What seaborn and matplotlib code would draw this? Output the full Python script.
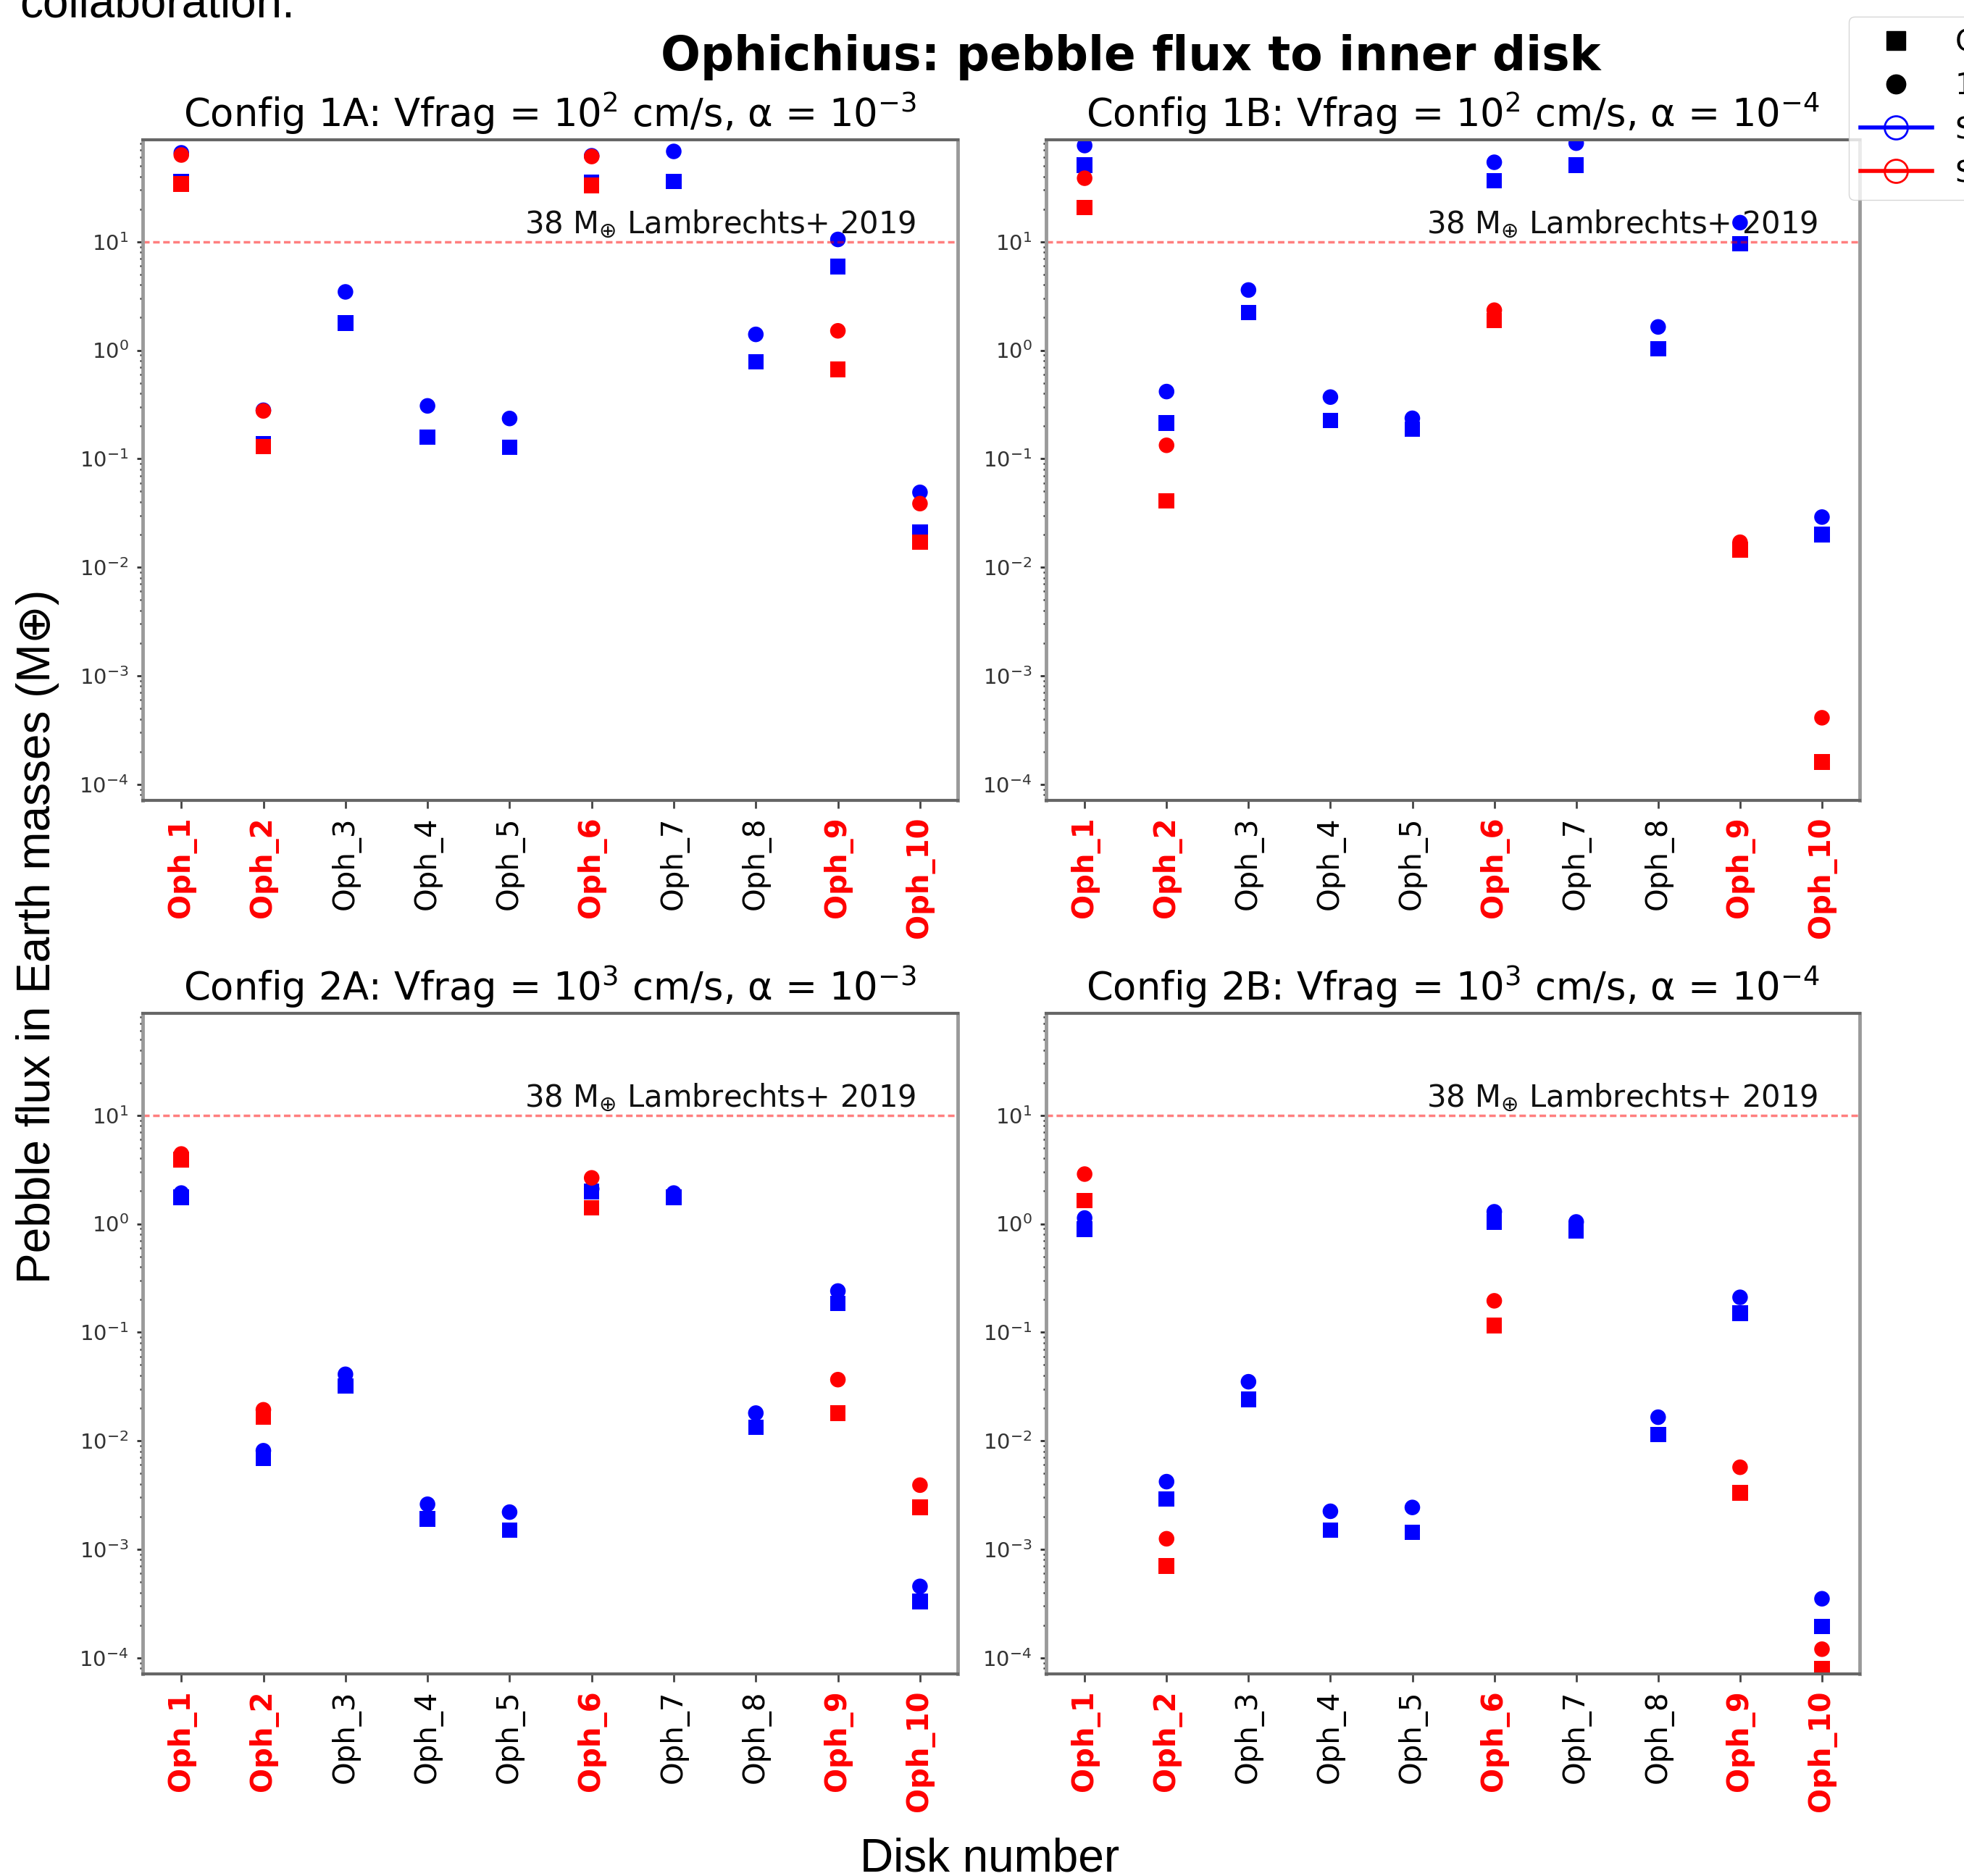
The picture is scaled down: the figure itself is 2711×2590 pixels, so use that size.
import numpy as np
import pandas as pd
import matplotlib
matplotlib.use("Agg")
import matplotlib.pyplot as plt
import seaborn as sns
from matplotlib.lines import Line2D

# ---------------- data ----------------
disks = ["Oph_1", "Oph_2", "Oph_3", "Oph_4", "Oph_5",
         "Oph_6", "Oph_7", "Oph_8", "Oph_9", "Oph_10"]
red_disks = ["Oph_1", "Oph_2", "Oph_6", "Oph_9", "Oph_10"]

titles = [
    "Config 1A: Vfrag = 10$^2$ cm/s, \u03b1 = 10$^{-3}$",
    "Config 1B: Vfrag = 10$^2$ cm/s, \u03b1 = 10$^{-4}$",
    "Config 2A: Vfrag = 10$^3$ cm/s, \u03b1 = 10$^{-3}$",
    "Config 2B: Vfrag = 10$^3$ cm/s, \u03b1 = 10$^{-4}$",
]

# blue series (all disks)
blue_circle_1A = [66, 0.28, 3.45, 0.307, 0.235, 62, 68, 1.40, 10.5, 0.049]
blue_square_1A = [36, 0.138, 1.78, 0.158, 0.128, 35, 36, 0.78, 5.9, 0.021]
blue_circle_1B = [77, 0.416, 3.59, 0.37, 0.236, 54, 81, 1.64, 15.0, 0.029]
blue_square_1B = [51, 0.213, 2.23, 0.226, 0.187, 36.5, 51, 1.03, 9.6, 0.020]
blue_circle_2A = [1.92, 0.0081, 0.041, 0.0026, 0.0022, 2.1, 1.92, 0.018, 0.24, 4.55e-4]
blue_square_2A = [1.75, 0.0069, 0.032, 0.0019, 0.0015, 1.98, 1.75, 0.0133, 0.185, 3.3e-4]
blue_circle_2B = [1.13, 0.0042, 0.035, 0.00224, 0.00243, 1.29, 1.04, 0.0165, 0.21, 3.5e-4]
blue_square_2B = [0.89, 0.0029, 0.024, 0.0015, 0.00143, 1.04, 0.86, 0.0114, 0.15, 1.94e-4]

# red series (red-labelled disks only)
red_circle_1A = [63, 0.276, 61, 1.51, 0.0386]
red_square_1A = [34, 0.13, 33, 0.664, 0.017]
red_circle_1B = [38.5, 0.133, 2.34, 0.017, 4.1e-4]
red_square_1B = [20.7, 0.041, 1.88, 0.0145, 1.6e-4]
red_circle_2A = [4.4, 0.0193, 2.65, 0.0366, 0.0039]
red_square_2A = [3.9, 0.0166, 1.4, 0.018, 0.00243]
red_circle_2B = [2.87, 0.00125, 0.195, 0.0057, 1.2e-4]
red_square_2B = [1.64, 0.0007, 0.115, 0.0033, 7.9e-5]

panels = [
    (blue_square_1A, blue_circle_1A, red_square_1A, red_circle_1A),
    (blue_square_1B, blue_circle_1B, red_square_1B, red_circle_1B),
    (blue_square_2A, blue_circle_2A, red_square_2A, red_circle_2A),
    (blue_square_2B, blue_circle_2B, red_square_2B, red_circle_2B),
]

ref_value = 10.0
ref_label = r"38 M$_{\oplus}$ Lambrechts+ 2019"
legend_labels = ["Current age", "1 Myr", "Smooth disk", "Substructured disk"]

# ---------------- figure ----------------
W, H = 2711, 2590
fig = plt.figure(figsize=(W / 100, H / 100), dpi=100)
fig.patch.set_facecolor("white")

def frac_rect(x0, y0, x1, y1):
    return [x0 / W, 1 - y1 / H, (x1 - x0) / W, (y1 - y0) / H]

rects = [
    frac_rect(197, 193, 1322, 1105),
    frac_rect(1444, 193, 2567, 1105),
    frac_rect(197, 1399, 1322, 2311),
    frac_rect(1444, 1399, 2567, 2311),
]

for (bs, bc, rs, rc), rect, title in zip(panels, rects, titles):
    ax = fig.add_axes(rect)
    rows = []
    for d, v in zip(disks, bs):
        rows.append((d, v, "blue", "square"))
    for d, v in zip(disks, bc):
        rows.append((d, v, "blue", "circle"))
    for d, v in zip(red_disks, rs):
        rows.append((d, v, "red", "square"))
    for d, v in zip(red_disks, rc):
        rows.append((d, v, "red", "circle"))
    df = pd.DataFrame(rows, columns=["disk", "flux", "group", "shape"])
    ax.set_yscale("log")
    sns.scatterplot(data=df, x="disk", y="flux", hue="group", style="shape",
                    palette={"blue": "blue", "red": "red"},
                    markers={"square": "s", "circle": "o"},
                    s=240, linewidth=0, legend=False, ax=ax)
    ax.set_xlim(-0.47, 9.46)
    ax.set_ylim(7.1e-5, 87)
    ax.axhline(ref_value, color="red", alpha=0.5, lw=2.5,
               linestyle=(0, (2.6, 1.4)), zorder=2)
    ax.text(8.95, ref_value * 1.04, ref_label, ha="right", va="bottom",
            fontsize=30, color="#111111", zorder=3)
    ax.set_title(title, fontsize=38, pad=13)
    ax.set_xlabel("")
    ax.set_ylabel("")
    ax.set_xticks(range(len(disks)))
    ax.set_xticklabels(disks, rotation=90)
    for lab in ax.get_xticklabels():
        if lab.get_text() in red_disks:
            lab.set_color("red")
            lab.set_fontweight("bold")
        else:
            lab.set_color("black")
    ax.tick_params(axis="x", length=8, width=2, labelsize=29, pad=8,
                   color="#444444")
    ax.tick_params(axis="y", which="major", length=6, width=2, labelsize=21,
                   pad=8, color="#333333", labelcolor="#333333")
    ax.tick_params(axis="y", which="minor", length=3, width=1.8,
                   color="#333333")
    for side in ["left", "right"]:
        ax.spines[side].set_color("#9a9a9a")
        ax.spines[side].set_linewidth(3.5)
    for side in ["top", "bottom"]:
        ax.spines[side].set_color("#666666")
        ax.spines[side].set_linewidth(3.0)
    ax.grid(False)

fig.text(1561 / W, 1 - 97 / H, "Ophichius: pebble flux to inner disk",
         ha="center", va="baseline", fontsize=46.5, fontweight="bold")
fig.text(27 / W, 1 - 23 / H, "collaboration.", ha="left", va="baseline",
         fontsize=46, family=["Liberation Sans", "DejaVu Sans"])
fig.text(52 / W, 0.501, "Pebble flux in Earth masses (M\u2295)", rotation=90,
         ha="center", va="center", fontsize=46,
         family=["Liberation Sans", "DejaVu Sans"])
fig.text(1366 / W, 1 - 2584 / H, "Disk number", ha="center", va="baseline",
         fontsize=46, family=["Liberation Sans", "DejaVu Sans"])

handles = [
    Line2D([], [], marker="s", color="black", linestyle="None", markersize=19),
    Line2D([], [], marker="o", color="black", linestyle="None", markersize=19),
    Line2D([], [], marker="o", color="blue", markerfacecolor="none",
           linestyle="-", lw=4, markersize=23, markeredgewidth=2),
    Line2D([], [], marker="o", color="red", markerfacecolor="none",
           linestyle="-", lw=4, markersize=23, markeredgewidth=2),
]
fig.legend(handles, legend_labels, loc="upper left",
           bbox_to_anchor=(2552 / W, 1 - 23 / H), borderaxespad=0,
           fontsize=29, handlelength=2.45, numpoints=1)

fig.savefig("out.png", dpi=100)
